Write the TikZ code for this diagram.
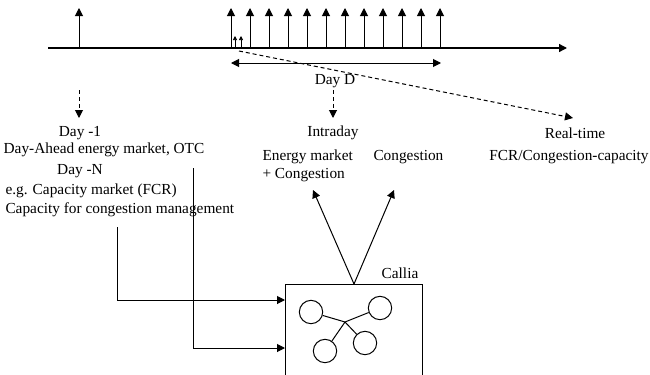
\documentclass[tikz,border=0pt]{standalone}
\usepackage{fontspec}
\setmainfont{Liberation Serif}
\usetikzlibrary{arrows.meta}

\begin{document}
\begin{tikzpicture}[x=0.75pt, y=-0.75pt, line width=0.75pt,
  txt/.style={inner sep=0pt, font=\fontsize{11.5}{13}\selectfont},
  tip/.style={-{Triangle[length=6pt,width=6pt]}},
  smalltip/.style={-{Triangle[length=3pt,width=3pt]}, line width=0.5pt},
  dashline/.style={dash pattern=on 3pt off 2.2pt},
  node1/.style={draw, circle, minimum size=17.5pt, inner sep=0pt}]
\useasboundingbox (0,0) rectangle (650,375);

% time axis
\coordinate (t0) at (48,48);
\coordinate (t1) at (567,48);
\draw[tip, line width=1pt] (t0) -- (t1);

\coordinate (dm1) at (79,48);
\coordinate (dm1top) at (79,8);
\draw[tip] (dm1) -- (dm1top);

\foreach \i in {0,...,11} {
  \coordinate (h\i) at (231+19*\i,48);
  \coordinate (h\i top) at (231+19*\i,8);
  \draw[tip] (h\i) -- (h\i top);
}

\coordinate (s1) at (235,48);
\coordinate (s1top) at (235,36);
\coordinate (s2) at (241,48);
\coordinate (s2top) at (241,36);
\draw[smalltip] (s1) -- (s1top);
\draw[smalltip] (s2) -- (s2top);

% day D
\coordinate (dA) at (231,63);
\coordinate (dB) at (441,63);
\draw[{Triangle[length=6pt,width=6pt]}-{Triangle[length=6pt,width=6pt]}] (dA) -- (dB);
\node[txt] (dayD) at (335,81) {Day D};

\coordinate (rt0) at (239,51);
\coordinate (rt1) at (573,118);
\draw[tip, dashline] (rt0) -- (rt1);

\coordinate (a1) at (79,90);
\coordinate (a1end) at (79,118);
\draw[tip, dashline] (a1) -- (a1end);
\coordinate (a2) at (333,90);
\coordinate (a2end) at (333,118);
\draw[tip, dashline] (a2) -- (a2end);

% texts
\node[txt] (daym1) at (80,133) {Day -1};
\node[txt] (dayahead) at (104,150) {Day-Ahead energy market, OTC};
\node[txt] (dayN) at (80,171) {Day -N};
\node[txt, anchor=west] (capmkt) at (5,191) {e.g. Capacity market (FCR)};
\node[txt, anchor=west] (capcong) at (5,210) {Capacity for congestion management};
\node[txt] (intraday) at (333,133) {Intraday};
\node[txt, anchor=west] (energy) at (262,157) {Energy market};
\node[txt, anchor=west] (pluscong) at (262,175) {+ Congestion};
\node[txt, anchor=west] (cong) at (373,157) {Congestion};
\node[txt] (realtime) at (575,133) {Real-time};
\node[txt] (fcr) at (569,157) {FCR/Congestion-capacity};

% Callia
\node[draw, anchor=north west, minimum width=102.75pt, minimum height=80pt, inner sep=0pt] (box) at (285,284) {};
\node[txt] (callia) at (400,273) {Callia};

\coordinate (u1) at (313,190);
\coordinate (u2) at (394,190);
\draw[tip] (box.north) -- (u1);
\draw[tip] (box.north) -- (u2);

\coordinate (l1) at (117,227);
\coordinate (l2) at (193,168);
\coordinate (in1) at (285,300);
\coordinate (in2) at (285,348);
\draw[tip] (l1) |- (in1);
\draw[tip] (l2) |- (in2);

\coordinate (hub) at (345,322);
\node[node1] (n1) at (311,312) {};
\node[node1] (n2) at (380,308) {};
\node[node1] (n3) at (325,351) {};
\node[node1] (n4) at (365,343) {};
\draw (hub) -- (n1);
\draw (hub) -- (n2);
\draw (hub) -- (n3);
\draw (hub) -- (n4);

\end{tikzpicture}
\end{document}
